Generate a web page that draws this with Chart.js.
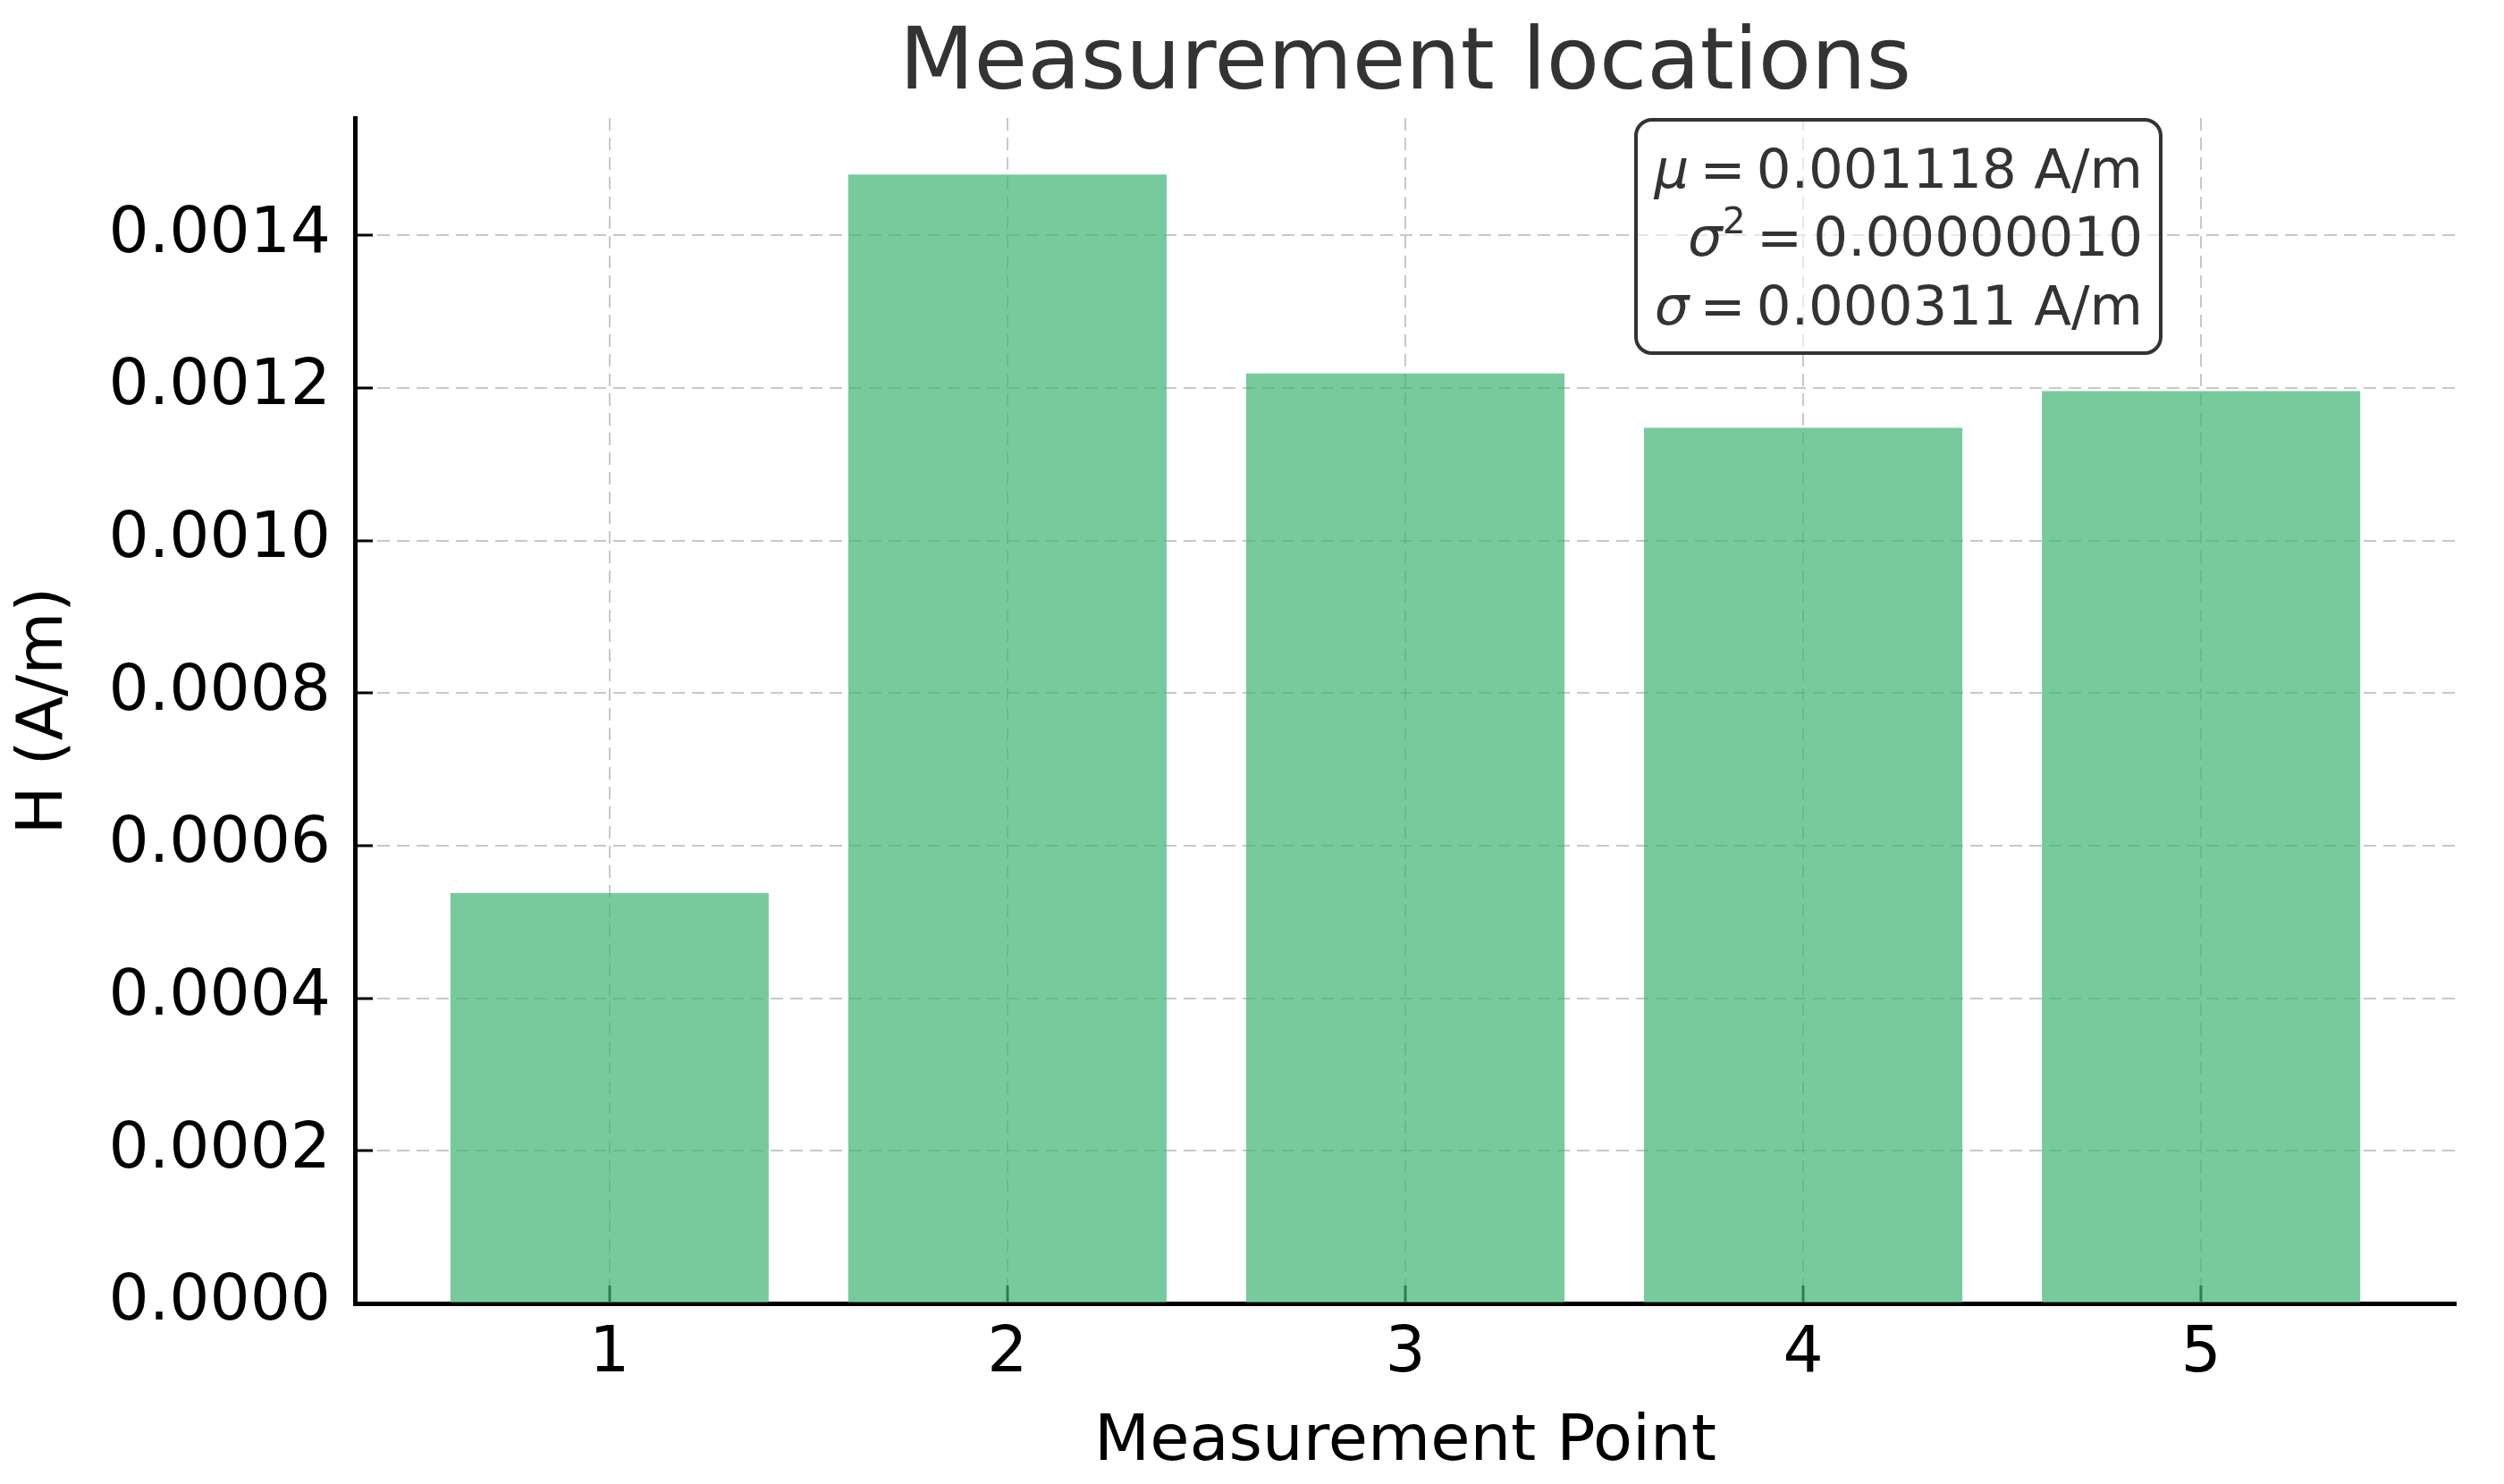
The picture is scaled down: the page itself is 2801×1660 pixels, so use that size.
<!DOCTYPE html>
<html lang="en">
<head>
  <meta charset="UTF-8">
  <title>Measurement locations</title>
  <script src="https://cdn.jsdelivr.net/npm/chart.js"></script>
  <style>
    body { margin: 0; background: #fff; }
    #wrap { width: 2801px; height: 1660px; }
  </style>
</head>
<body>
  <div id="wrap"><canvas id="chart" width="2801" height="1660"></canvas></div>
  <script>
    // data
    const points = [1, 2, 3, 4, 5];
    const hValues = [0.000538, 0.00148, 0.001219, 0.001148, 0.001196];
    const yTicks = [0, 0.0002, 0.0004, 0.0006, 0.0008, 0.0010, 0.0012, 0.0014];
    const xRange = [0.36, 5.64];
    const yRange = [0, 0.001554];
    const statLines = [
      [['μ', 'it'], ['\u2009=\u20090.001118 A/m', 'rm']],
      [['σ', 'it'], ['2', 'sup'], ['\u2009=\u20090.00000010', 'rm']],
      [['σ', 'it'], ['\u2009=\u20090.000311 A/m', 'rm']]
    ];

    const FONT = '"DejaVu Sans", sans-serif';
    const segFont = { it: 'oblique 61px ' + FONT, rm: '61px ' + FONT, sup: '41px ' + FONT };

    // title + stats box
    const extras = {
      id: 'extras',
      afterDraw(chart) {
        const { ctx, chartArea: a } = chart;
        ctx.save();
        ctx.fillStyle = '#333';
        ctx.font = '97px ' + FONT;
        ctx.textAlign = 'center';
        ctx.textBaseline = 'alphabetic';
        ctx.fillText('Measurement locations', (a.left + a.right) / 2, 99);

        const bw = 587, bh = 261;
        const bx = a.left + 1433, by = a.top + 2;
        ctx.beginPath();
        ctx.roundRect(bx, by, bw, bh, 18);
        ctx.fillStyle = 'rgba(255,255,255,0.55)';
        ctx.fill();
        ctx.lineWidth = 4;
        ctx.strokeStyle = '#333';
        ctx.stroke();

        ctx.textAlign = 'left';
        ctx.fillStyle = '#333';
        const right = bx + bw - 20;
        statLines.forEach((segs, i) => {
          const base = by + 75.6 + i * 76.5;
          let total = 0;
          segs.forEach(([t, k]) => { ctx.font = segFont[k]; total += ctx.measureText(t).width; });
          let x = right - total;
          segs.forEach(([t, k]) => {
            ctx.font = segFont[k];
            ctx.fillText(t, x, k === 'sup' ? base - 25 : base);
            x += ctx.measureText(t).width;
          });
        });
        ctx.restore();
      }
    };

    const gridStyle = {
      color: 'rgba(170,170,170,0.65)',
      lineWidth: 2,
      tickLength: -20,
      tickColor: '#000',
      tickWidth: 3,
      tickBorderDash: [],
      offset: false
    };
    const borderStyle = { display: true, color: '#000', width: 5, dash: [14, 8] };

    new Chart(document.getElementById('chart'), {
      type: 'bar',
      data: {
        datasets: [{
          data: points.map((p, i) => ({ x: p, y: hValues[i] })),
          backgroundColor: 'rgba(60,179,113,0.7)',
          borderWidth: 0,
          barPercentage: 0.8,
          categoryPercentage: 1.0
        }]
      },
      options: {
        responsive: false,
        animation: false,
        layout: { padding: { top: 132, left: 0, right: 54, bottom: 0 } },
        plugins: {
          legend: { display: false },
          tooltip: { enabled: false },
          title: { display: false }
        },
        scales: {
          x: {
            type: 'linear',
            min: xRange[0],
            max: xRange[1],
            offset: false,
            z: 1,
            afterBuildTicks: s => { s.ticks = points.map(v => ({ value: v })); },
            afterFit: s => { s.height = 202; },
            grid: gridStyle,
            border: borderStyle,
            ticks: {
              color: '#000',
              font: { family: FONT, size: 71 },
              padding: 35,
              maxRotation: 0,
              autoSkip: false,
              callback: v => String(v)
            },
            title: {
              display: true,
              text: 'Measurement Point',
              color: '#000',
              font: { family: FONT, size: 72 },
              padding: { top: 0, bottom: 3 }
            }
          },
          y: {
            min: yRange[0],
            max: yRange[1],
            z: 1,
            afterBuildTicks: s => { s.ticks = yTicks.map(v => ({ value: v })); },
            afterFit: s => { s.width = 397; },
            grid: gridStyle,
            border: borderStyle,
            ticks: {
              color: '#000',
              font: { family: FONT, size: 71 },
              padding: 47,
              callback: v => v.toFixed(4)
            },
            title: {
              display: true,
              text: 'H (A/m)',
              color: '#000',
              font: { family: FONT, size: 72 },
              padding: { top: 7, bottom: 0 }
            }
          }
        }
      },
      plugins: [extras]
    });
  </script>
</body>
</html>
